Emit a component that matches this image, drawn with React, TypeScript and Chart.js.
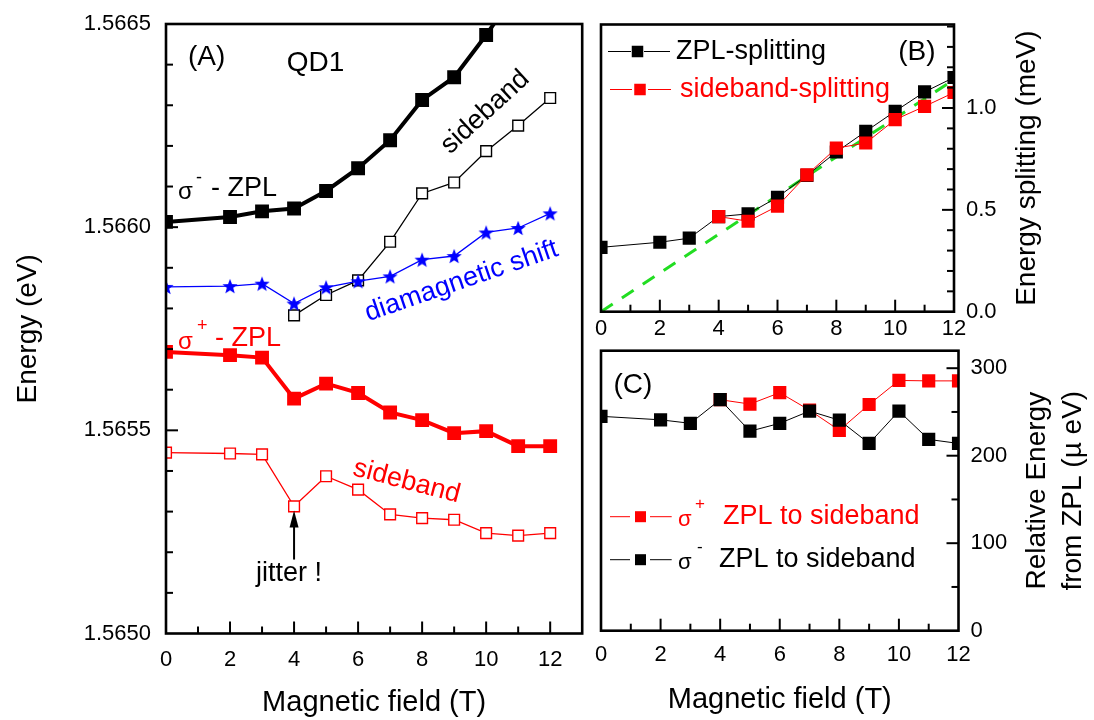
import React, { useEffect, useRef } from 'react';
import { Chart, registerables } from 'chart.js';

Chart.register(...registerables);

const FONT = "'Liberation Sans', Arial, Helvetica, sans-serif";
Chart.defaults.font.family = FONT;
Chart.defaults.color = '#000';

// ---------------- Panel (A): energy (eV) vs magnetic field (T) ----------------
const fieldA = [0, 2, 3, 4, 5, 6, 7, 8, 9, 10, 11, 12];
const sigmaMinusZPL = [1.566013, 1.566025, 1.566039, 1.566046, 1.566089, 1.566145, 1.566214, 1.566313, 1.566369, 1.566473, 1.566586, 1.5667];
const fieldSidebandMinus = [4, 5, 6, 7, 8, 9, 10, 11, 12];
const sigmaMinusSideband = [1.565783, 1.565833, 1.565869, 1.565964, 1.566083, 1.56611, 1.566187, 1.56625, 1.566318];
const diamagneticShift = [1.565853, 1.565855, 1.565861, 1.565812, 1.565852, 1.565867, 1.565879, 1.56592, 1.565929, 1.565987, 1.565998, 1.566034];
const sigmaPlusZPL = [1.565693, 1.565685, 1.565679, 1.565578, 1.565615, 1.565592, 1.565544, 1.565525, 1.565493, 1.565498, 1.565461, 1.565461];
const sigmaPlusSideband = [1.565445, 1.565443, 1.565441, 1.565313, 1.565387, 1.565354, 1.565293, 1.565284, 1.56528, 1.565247, 1.565241, 1.565247];

// ---------------- Panel (B): energy splitting (meV) ----------------
const fieldB = [0, 2, 3, 4, 5, 6, 7, 8, 9, 10, 11, 12];
const zplSplitting = [0.316, 0.341, 0.361, 0.467, 0.48, 0.562, 0.669, 0.784, 0.885, 0.984, 1.079, 1.15];
const fieldSidebandSplit = [4, 5, 6, 7, 8, 9, 10, 11, 12];
const sidebandSplitting = [0.467, 0.444, 0.518, 0.672, 0.803, 0.828, 0.943, 1.008, 1.076];
const fitField = [0, 12];
const fitSplitting = [0, 1.14];

// ---------------- Panel (C): relative energy from ZPL (µeV) ----------------
const fieldC = [0, 2, 3, 4, 5, 6, 7, 8, 9, 10, 11, 12];
const sigmaMinusToSideband = [245, 241, 237, 264, 228, 237, 251, 240.6, 214, 251, 218.6, 214];
const fieldSigmaPlusC = [4, 5, 6, 7, 8, 9, 10, 11, 12];
const sigmaPlusToSideband = [264, 259, 272, 252, 229, 258.5, 286, 285.5, 285.5];

// ---------------- tick labels ----------------
const fieldTickLabels = [0, 2, 4, 6, 8, 10, 12];
const energyTickLabels = [1.565, 1.5655, 1.566, 1.5665];
const splittingTickLabels = [0, 0.5, 1.0];
const relEnergyTickLabels = [0, 100, 200, 300];

const BLACK = '#000000';
const RED = '#ff0000';
const BLUE = '#0000ff';
const GREEN = '#22dd22';

const pts = (xs: number[], ys: number[]) => xs.map((x, i) => ({ x, y: ys[i] }));

function stepValues(min: number, max: number, step: number) {
  const out: number[] = [];
  for (let i = 0; ; i++) {
    const v = Math.round((min + i * step) * 1e9) / 1e9;
    if (v > max + step * 1e-6) break;
    out.push(v);
  }
  return out;
}
const isIn = (v: number, list: number[]) => list.some((t) => Math.abs(t - v) < 1e-9);

function makeStar(size: number, color: string) {
  const c = document.createElement('canvas');
  c.width = size;
  c.height = size;
  const ctx = c.getContext('2d')!;
  const cx = size / 2;
  const cy = size / 2 + size * 0.05;
  const R = size / 2;
  const r = R * 0.42;
  ctx.beginPath();
  for (let i = 0; i < 10; i++) {
    const ang = -Math.PI / 2 + (i * Math.PI) / 5;
    const rad = i % 2 === 0 ? R : r;
    ctx.lineTo(cx + rad * Math.cos(ang), cy + rad * Math.sin(ang));
  }
  ctx.closePath();
  ctx.fillStyle = color;
  ctx.fill();
  return c;
}

function xAxis(max: number, padding: number, height: number, title?: { text: string; pad: number }) {
  return {
    type: 'linear',
    position: 'bottom',
    min: 0,
    max,
    grid: { display: false, drawTicks: false },
    border: { display: false },
    afterBuildTicks: (s: any) => {
      s.ticks = stepValues(0, max, 1).map((v) => ({ value: v }));
    },
    ticks: {
      autoSkip: false,
      maxRotation: 0,
      minRotation: 0,
      padding,
      color: '#000',
      font: { size: 22, family: FONT },
      callback: (v: any) => (isIn(Number(v), fieldTickLabels) ? String(Math.round(Number(v))) : ''),
    },
    title: title
      ? { display: true, text: title.text, color: '#000', font: { size: 29, family: FONT }, padding: { top: 0, bottom: title.pad } }
      : { display: false },
    afterFit: (s: any) => {
      s.height = height;
      s.paddingLeft = 0;
      s.paddingRight = 0;
      s.paddingTop = 0;
      s.paddingBottom = 0;
    },
  };
}

function yAxis(opts: {
  position: 'left' | 'right';
  min: number;
  max: number;
  step: number;
  labels: number[];
  decimals: number;
  padding: number;
  width: number;
  title?: { text: string; pad: number };
}) {
  return {
    type: 'linear',
    position: opts.position,
    min: opts.min,
    max: opts.max,
    grid: { display: false, drawTicks: false },
    border: { display: false },
    afterBuildTicks: (s: any) => {
      s.ticks = stepValues(opts.min, opts.max, opts.step).map((v) => ({ value: v }));
    },
    ticks: {
      autoSkip: false,
      padding: opts.padding,
      color: '#000',
      font: { size: 22, family: FONT },
      callback: (v: any) => (isIn(Number(v), opts.labels) ? Number(v).toFixed(opts.decimals) : ''),
    },
    title: opts.title
      ? { display: true, text: opts.title.text, color: '#000', font: { size: 28, family: FONT }, padding: { top: opts.title.pad, bottom: 0 } }
      : { display: false },
    afterFit: (s: any) => {
      s.width = opts.width;
      s.paddingLeft = 0;
      s.paddingRight = 0;
      s.paddingTop = 0;
      s.paddingBottom = 0;
    },
  };
}

type Part = { text: string; size: number; dx: number; dy: number };
type Deco = {
  tickAxes: { id: string; side: 'bottom' | 'left' | 'right' }[];
  texts?: { text: string; x: number; y: number; size: number; color?: string; rot?: number }[];
  rich?: { x: number; y: number; color: string; parts: Part[] }[];
  arrows?: { x: number; y0: number; y1: number }[];
  legend?: { dy: number; l0: number; l1: number; r0: number; r1: number; m: number; side: number; color: string; lw: number; parts: Part[] }[];
  vtitles?: { text: string; px: number; size: number }[];
};

function drawText(ctx: CanvasRenderingContext2D, text: string, x: number, y: number, size: number, color: string, rot = 0, align: CanvasTextAlign = 'center') {
  ctx.save();
  ctx.translate(x, y);
  ctx.rotate((rot * Math.PI) / 180);
  ctx.font = `${size}px ${FONT}`;
  ctx.fillStyle = color;
  ctx.textAlign = align;
  ctx.textBaseline = 'middle';
  ctx.fillText(text, 0, 0);
  ctx.restore();
}

function decoPlugin(cfg: Deco) {
  return {
    id: 'deco',
    afterDatasetsDraw(chart: any) {
      const { ctx, chartArea: a } = chart;
      ctx.save();
      ctx.strokeStyle = '#000';
      ctx.lineWidth = 2;
      for (const t of cfg.tickAxes) {
        const s = chart.scales[t.id];
        for (const tk of s.ticks) {
          const p = s.getPixelForValue(tk.value);
          const len = tk.label ? 12 : 7;
          if (t.side === 'bottom') {
            if (p <= a.left + 1 || p >= a.right - 1) continue;
            ctx.beginPath();
            ctx.moveTo(p, a.bottom);
            ctx.lineTo(p, a.bottom - len);
            ctx.stroke();
          } else {
            if (p <= a.top + 1 || p >= a.bottom - 1) continue;
            ctx.beginPath();
            if (t.side === 'left') {
              ctx.moveTo(a.left, p);
              ctx.lineTo(a.left + len, p);
            } else {
              ctx.moveTo(a.right, p);
              ctx.lineTo(a.right - len, p);
            }
            ctx.stroke();
          }
        }
      }
      ctx.lineWidth = 2.6;
      ctx.strokeRect(a.left, a.top, a.right - a.left, a.bottom - a.top);
      ctx.restore();
    },
    afterDraw(chart: any) {
      const { ctx, chartArea: a, scales } = chart;
      const X = (v: number) => scales.x.getPixelForValue(v);
      const Y = (v: number) => scales.y.getPixelForValue(v);
      for (const t of cfg.texts || []) {
        drawText(ctx, t.text, X(t.x), Y(t.y), t.size, t.color || '#000', t.rot || 0);
      }
      for (const r of cfg.rich || []) {
        const bx = X(r.x);
        const by = Y(r.y);
        for (const p of r.parts) drawText(ctx, p.text, bx + p.dx, by + p.dy, p.size, r.color, 0, 'left');
      }
      for (const ar of cfg.arrows || []) {
        const x = X(ar.x);
        const y0 = Y(ar.y0);
        const y1 = Y(ar.y1);
        ctx.save();
        ctx.strokeStyle = '#000';
        ctx.fillStyle = '#000';
        ctx.lineWidth = 2;
        ctx.beginPath();
        ctx.moveTo(x, y0);
        ctx.lineTo(x, y1 + 12);
        ctx.stroke();
        ctx.beginPath();
        ctx.moveTo(x, y1);
        ctx.lineTo(x - 4.5, y1 + 17);
        ctx.lineTo(x + 4.5, y1 + 17);
        ctx.closePath();
        ctx.fill();
        ctx.restore();
      }
      for (const lg of cfg.legend || []) {
        const y = a.top + lg.dy;
        ctx.save();
        ctx.strokeStyle = lg.color;
        ctx.lineWidth = lg.lw;
        ctx.beginPath();
        ctx.moveTo(a.left + lg.l0, y);
        ctx.lineTo(a.left + lg.l1, y);
        ctx.moveTo(a.left + lg.r0, y);
        ctx.lineTo(a.left + lg.r1, y);
        ctx.stroke();
        ctx.fillStyle = lg.color;
        ctx.fillRect(a.left + lg.m - lg.side / 2, y - lg.side / 2, lg.side, lg.side);
        ctx.restore();
        for (const p of lg.parts) drawText(ctx, p.text, a.left + p.dx, y + p.dy, p.size, lg.color, 0, 'left');
      }
      const cy = (a.top + a.bottom) / 2;
      for (const v of cfg.vtitles || []) drawText(ctx, v.text, v.px, cy, v.size, '#000', -90);
    },
  };
}

function lineDs(label: string, data: any[], o: any) {
  return {
    label,
    data,
    showLine: true,
    tension: 0,
    fill: false,
    ...o,
  };
}

export default function App() {
  const refA = useRef<HTMLCanvasElement>(null);
  const refB = useRef<HTMLCanvasElement>(null);
  const refC = useRef<HTMLCanvasElement>(null);

  useEffect(() => {
    const star = makeStar(16, BLUE);
    const common = {
      responsive: false,
      animation: false,
      maintainAspectRatio: false,
      plugins: { legend: { display: false }, tooltip: { enabled: false } },
      events: [],
    };

    const chartA = new Chart(refA.current as HTMLCanvasElement, {
      type: 'line',
      data: {
        datasets: [
          lineDs('diamagnetic shift', pts(fieldA, diamagneticShift), {
            borderColor: BLUE, borderWidth: 1.3, pointStyle: star, pointRadius: 8,
          }),
          lineDs('σ- ZPL', pts(fieldA, sigmaMinusZPL), {
            borderColor: BLACK, borderWidth: 4, pointStyle: 'rect', pointRadius: 9.8,
            pointBackgroundColor: BLACK, pointBorderWidth: 0,
          }),
          lineDs('σ- sideband', pts(fieldSidebandMinus, sigmaMinusSideband), {
            borderColor: BLACK, borderWidth: 1.3, pointStyle: 'rect', pointRadius: 7.6,
            pointBackgroundColor: '#fff', pointBorderColor: BLACK, pointBorderWidth: 1.4,
          }),
          lineDs('σ+ ZPL', pts(fieldA, sigmaPlusZPL), {
            borderColor: RED, borderWidth: 4, pointStyle: 'rect', pointRadius: 9.8,
            pointBackgroundColor: RED, pointBorderWidth: 0,
          }),
          lineDs('σ+ sideband', pts(fieldA, sigmaPlusSideband), {
            borderColor: RED, borderWidth: 1.3, pointStyle: 'rect', pointRadius: 7.6,
            pointBackgroundColor: '#fff', pointBorderColor: RED, pointBorderWidth: 1.4,
          }),
        ],
      },
      options: {
        ...common,
        layout: { padding: { left: 0, top: 24, right: 6, bottom: 0 } },
        scales: {
          x: xAxis(13, 13, 86.5, { text: 'Magnetic field (T)', pad: 0 }),
          y: yAxis({
            position: 'left', min: 1.565, max: 1.5665, step: 0.0001, labels: energyTickLabels, decimals: 4,
            padding: 15, width: 166, title: { text: 'Energy (eV)', pad: 11 },
          }),
        },
      } as any,
      plugins: [
        decoPlugin({
          tickAxes: [{ id: 'x', side: 'bottom' }, { id: 'y', side: 'left' }],
          texts: [
            { text: '(A)', x: 1.27, y: 1.566419, size: 28 },
            { text: 'QD1', x: 4.67, y: 1.566404, size: 28 },
            { text: 'sideband', x: 9.97, y: 1.566283, size: 27, rot: -42.6 },
            { text: 'diamagnetic shift', x: 9.23, y: 1.565867, size: 27, rot: -19, color: BLUE },
            { text: 'sideband', x: 7.52, y: 1.565374, size: 27, rot: 14.6, color: RED },
            { text: 'jitter !', x: 3.84, y: 1.565148, size: 27 },
          ],
          rich: [
            {
              x: 0.372, y: 1.566094, color: BLACK,
              parts: [
                { text: 'σ', size: 24, dx: 0, dy: 3 },
                { text: '-', size: 18, dx: 18, dy: -11 },
                { text: '- ZPL', size: 27, dx: 33, dy: 0 },
              ],
            },
            {
              x: 0.372, y: 1.565725, color: RED,
              parts: [
                { text: 'σ', size: 24, dx: 0, dy: 3 },
                { text: '+', size: 18, dx: 19, dy: -12.5 },
                { text: '- ZPL', size: 27, dx: 37, dy: 0 },
              ],
            },
          ],
          arrows: [{ x: 4, y0: 1.565182, y1: 1.565303 }],
        }),
      ],
    } as any);

    const chartB = new Chart(refB.current as HTMLCanvasElement, {
      type: 'line',
      data: {
        datasets: [
          lineDs('sideband-splitting', pts(fieldSidebandSplit, sidebandSplitting), {
            borderColor: RED, borderWidth: 1, pointStyle: 'rect', pointRadius: 9.3,
            pointBackgroundColor: RED, pointBorderWidth: 0,
          }),
          lineDs('ZPL-splitting', pts(fieldB, zplSplitting), {
            borderColor: BLACK, borderWidth: 1, pointStyle: 'rect', pointRadius: 9.3,
            pointBackgroundColor: BLACK, pointBorderWidth: 0,
          }),
          lineDs('linear', pts(fitField, fitSplitting), {
            borderColor: GREEN, borderWidth: 3, borderDash: [14, 11], pointRadius: 0,
          }),
        ],
      },
      options: {
        ...common,
        layout: { padding: { left: 11, top: 24.5, right: 0, bottom: 0 } },
        scales: {
          x: xAxis(12, 4, 28.3),
          y: yAxis({
            position: 'right', min: 0, max: 1.41, step: 0.1, labels: splittingTickLabels, decimals: 1,
            padding: 12, width: 140,
          }),
        },
      } as any,
      plugins: [
        decoPlugin({
          tickAxes: [{ id: 'x', side: 'bottom' }, { id: 'y', side: 'right' }],
          texts: [{ text: '(B)', x: 10.74, y: 1.272, size: 28 }],
          legend: [
            { dy: 27, l0: 7, l1: 30, r0: 43, r1: 69, m: 36.5, side: 11.5, color: BLACK, lw: 1, parts: [{ text: 'ZPL-splitting', size: 27, dx: 75, dy: 0 }] },
            { dy: 65, l0: 9, l1: 31, r0: 47, r1: 70, m: 39, side: 11.5, color: RED, lw: 1, parts: [{ text: 'sideband-splitting', size: 27, dx: 79, dy: 0 }] },
          ],
          vtitles: [{ text: 'Energy splitting (meV)', px: 437, size: 28 }],
        }),
      ],
    } as any);

    const chartC = new Chart(refC.current as HTMLCanvasElement, {
      type: 'line',
      data: {
        datasets: [
          lineDs('σ- ZPL to sideband', pts(fieldC, sigmaMinusToSideband), {
            borderColor: BLACK, borderWidth: 1, pointStyle: 'rect', pointRadius: 9.3,
            pointBackgroundColor: BLACK, pointBorderWidth: 0,
          }),
          lineDs('σ+ ZPL to sideband', pts(fieldSigmaPlusC, sigmaPlusToSideband), {
            borderColor: RED, borderWidth: 1, pointStyle: 'rect', pointRadius: 9.3,
            pointBackgroundColor: RED, pointBorderWidth: 0,
          }),
        ],
      },
      options: {
        ...common,
        layout: { padding: { left: 11, top: 10.7, right: 0, bottom: 0 } },
        scales: {
          x: xAxis(12, 11, 89.3, { text: 'Magnetic field (T)', pad: 2.6 }),
          y: yAxis({
            position: 'right', min: 0, max: 320, step: 50, labels: relEnergyTickLabels, decimals: 0,
            padding: 12, width: 135.5,
          }),
        },
      } as any,
      plugins: [
        decoPlugin({
          tickAxes: [{ id: 'x', side: 'bottom' }, { id: 'y', side: 'right' }],
          texts: [{ text: '(C)', x: 1.07, y: 280.6, size: 28 }],
          legend: [
            {
              dy: 166, l0: 9, l1: 29, r0: 49, r1: 70.7, m: 39.5, side: 11, color: RED, lw: 1,
              parts: [
                { text: 'σ', size: 22, dx: 77, dy: 3 },
                { text: '+', size: 17, dx: 94, dy: -12 },
                { text: 'ZPL to sideband', size: 27, dx: 122, dy: 0 },
              ],
            },
            {
              dy: 209, l0: 9, l1: 29, r0: 49, r1: 70.7, m: 39.5, side: 11, color: BLACK, lw: 1,
              parts: [
                { text: 'σ', size: 22, dx: 77, dy: 3 },
                { text: '-', size: 17, dx: 96, dy: -12 },
                { text: 'ZPL to sideband', size: 27, dx: 118, dy: 0 },
              ],
            },
          ],
          vtitles: [
            { text: 'Relative Energy', px: 447, size: 28 },
            { text: 'from ZPL (µ eV)', px: 483, size: 28 },
          ],
        }),
      ],
    } as any);

    return () => {
      chartA.destroy();
      chartB.destroy();
      chartC.destroy();
    };
  }, []);

  return (
    <div style={{ position: 'absolute', left: 0, top: 0, width: 1094, height: 720, background: '#fff', overflow: 'hidden' }}>
      <canvas ref={refA} width={592} height={720} style={{ position: 'absolute', left: 0, top: 0, width: 592, height: 720 }} />
      <canvas ref={refB} width={504} height={340} style={{ position: 'absolute', left: 590, top: 0, width: 504, height: 340 }} />
      <canvas ref={refC} width={504} height={380} style={{ position: 'absolute', left: 590, top: 340, width: 504, height: 380 }} />
    </div>
  );
}
